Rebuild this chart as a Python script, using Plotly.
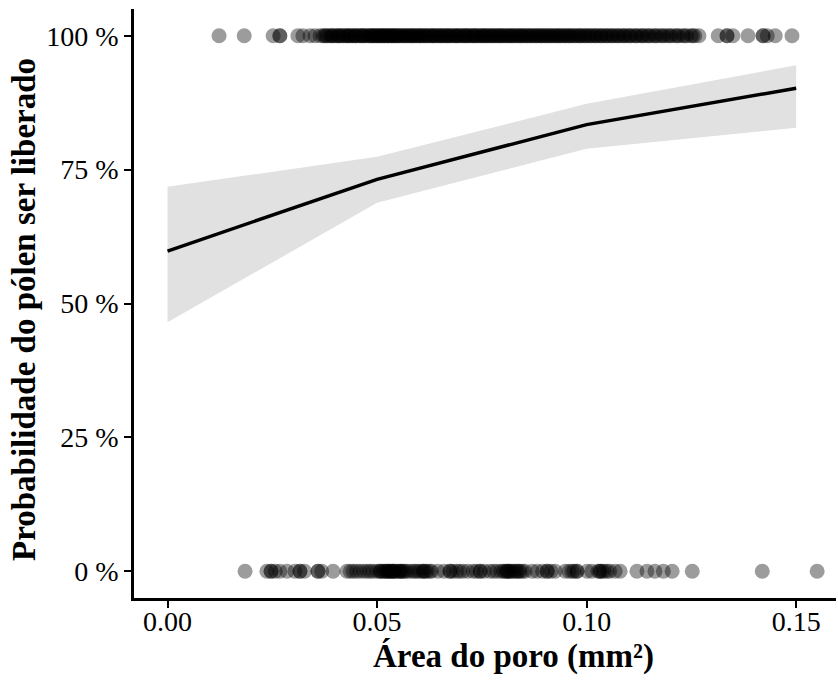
import plotly.graph_objects as go

# --- data ---
released_x = [
    0.0123, 0.0183, 0.0252, 0.0268, 0.0268, 0.0311, 0.0323, 0.0340, 0.0352,
    0.0364, 0.0371, 0.0375, 0.0382, 0.0388, 0.0391, 0.0398, 0.0404, 0.0409, 0.0413,
    0.0420, 0.0426, 0.0431, 0.0435, 0.0442, 0.0447, 0.0451, 0.0458, 0.0463, 0.0467,
    0.0472, 0.0479, 0.0484, 0.0488, 0.0493, 0.0497, 0.0502, 0.0506, 0.0511, 0.0515,
    0.0519, 0.0524, 0.0528, 0.0533, 0.0537, 0.0541, 0.0546, 0.0550, 0.0555, 0.0561,
    0.0566, 0.0570, 0.0576, 0.0581, 0.0585, 0.0590, 0.0596, 0.0601, 0.0605, 0.0611,
    0.0616, 0.0620, 0.0627, 0.0632, 0.0636, 0.0641, 0.0648, 0.0652, 0.0657, 0.0663,
    0.0668, 0.0672, 0.0678, 0.0684, 0.0689, 0.0693, 0.0699, 0.0705, 0.0710, 0.0714,
    0.0720, 0.0726, 0.0731, 0.0735, 0.0741, 0.0747, 0.0752, 0.0757, 0.0762, 0.0768,
    0.0773, 0.0778, 0.0784, 0.0789, 0.0794, 0.0799, 0.0805, 0.0811, 0.0816, 0.0821,
    0.0826, 0.0832, 0.0838, 0.0843, 0.0848, 0.0854, 0.0860, 0.0865, 0.0871, 0.0877,
    0.0882, 0.0888, 0.0893, 0.0899, 0.0905, 0.0911, 0.0916, 0.0922, 0.0928, 0.0933,
    0.0939, 0.0945, 0.0951, 0.0957, 0.0962, 0.0968, 0.0975, 0.0981, 0.0986, 0.0993,
    0.0999, 0.1005, 0.1012, 0.1018, 0.1024, 0.1031, 0.1037, 0.1044, 0.1051, 0.1057,
    0.1064, 0.1071, 0.1078, 0.1085, 0.1092, 0.1099, 0.1106, 0.1114, 0.1121, 0.1129,
    0.1136, 0.1144, 0.1152, 0.1160, 0.1168, 0.1176, 0.1185, 0.1193, 0.1202, 0.1211,
    0.1220, 0.1229, 0.1239, 0.1249, 0.1258, 0.1268,
    0.0378, 0.0394, 0.0407, 0.0418, 0.0429, 0.0439, 0.0449, 0.0460, 0.0470, 0.0481,
    0.0490, 0.0500, 0.0509, 0.0517, 0.0526, 0.0535, 0.0544, 0.0553, 0.0563, 0.0573,
    0.0583, 0.0593, 0.0603, 0.0613, 0.0624, 0.0634, 0.0645, 0.0655, 0.0666, 0.0676,
    0.0687, 0.0697, 0.0708, 0.0718, 0.0729, 0.0739, 0.0750, 0.0760, 0.0771, 0.0781,
    0.0792, 0.0802, 0.0813, 0.0824, 0.0835, 0.0846, 0.0857, 0.0868, 0.0880, 0.0891,
    0.0902, 0.0913, 0.0925, 0.0936, 0.0948, 0.0960, 0.0972, 0.0984, 0.0996, 0.1008,
    0.1021, 0.1034, 0.1047, 0.1061, 0.1075, 0.1089, 0.1103, 0.1118, 0.1133, 0.1148,
    0.1164, 0.1181, 0.1198, 0.1216, 0.1234, 0.1253,
    0.1314, 0.1335, 0.1335, 0.1349, 0.1385, 0.1421, 0.1421, 0.1431, 0.1450, 0.1490,
]
released_y = [100] * len(released_x)

retained_x = [
    0.0185, 0.0237, 0.0247, 0.0247, 0.0257, 0.0268, 0.0285, 0.0304, 0.0316, 0.0316,
    0.0327, 0.0359, 0.0359, 0.0368, 0.0395, 0.0428, 0.0443, 0.0459, 0.0476, 0.0490,
    0.0507, 0.0507, 0.0516, 0.0524, 0.0524, 0.0531, 0.0538, 0.0538, 0.0545, 0.0555,
    0.0555, 0.0562, 0.0571, 0.0586, 0.0597, 0.0610, 0.0610, 0.0619, 0.0626, 0.0645,
    0.0674, 0.0674, 0.0690, 0.0705, 0.0729, 0.0746, 0.0746, 0.0769, 0.0786, 0.0801,
    0.0810, 0.0810, 0.0817, 0.0825, 0.0834, 0.0841, 0.0853, 0.0882, 0.0906, 0.0906,
    0.0925, 0.0949, 0.0965, 0.0977, 0.0977, 0.1001, 0.1027, 0.1032, 0.1032, 0.1042,
    0.1049, 0.1068, 0.1080, 0.1120, 0.1144, 0.1163, 0.1183, 0.1204, 0.1252, 0.1419,
    0.1550,
    0.0436, 0.0451, 0.0468, 0.0483, 0.0499, 0.0512, 0.0520, 0.0528, 0.0534, 0.0541,
    0.0549, 0.0558, 0.0566, 0.0578, 0.0591, 0.0603, 0.0615, 0.0630, 0.0660, 0.0681,
    0.0697, 0.0716, 0.0737, 0.0756, 0.0778, 0.0795, 0.0805, 0.0814, 0.0821, 0.0830,
    0.0838, 0.0847, 0.0870, 0.0895, 0.0915, 0.0958, 0.0970, 0.1012, 0.1037, 0.1055,
]
retained_y = [0] * len(retained_x)

fit_x = [0.00, 0.05, 0.10, 0.15]
fit_y = [59.8, 73.2, 83.4, 90.2]
fit_lo = [46.5, 68.8, 78.9, 82.8]
fit_hi = [71.8, 77.4, 87.3, 94.5]

y_ticks = [0, 25, 50, 75, 100]
y_labels = ["0 %", "25 %", "50 %", "75 %", "100 %"]
x_ticks = [0.00, 0.05, 0.10, 0.15]
x_labels = ["0.00", "0.05", "0.10", "0.15"]

FONT = "Liberation Serif"

fig = go.Figure()

fig.add_trace(go.Scatter(x=fit_x, y=fit_lo, mode="lines", line=dict(width=0),
                         showlegend=False, hoverinfo="skip"))
fig.add_trace(go.Scatter(x=fit_x, y=fit_hi, mode="lines", line=dict(width=0),
                         fill="tonexty", fillcolor="#e1e1e1",
                         showlegend=False, hoverinfo="skip"))

point_style = dict(size=15, color="rgba(0,0,0,0.39)", line=dict(width=0))
fig.add_trace(go.Scatter(x=released_x, y=released_y, mode="markers",
                         marker=point_style, showlegend=False))
fig.add_trace(go.Scatter(x=retained_x, y=retained_y, mode="markers",
                         marker=point_style, showlegend=False))

fig.add_trace(go.Scatter(x=fit_x, y=fit_y, mode="lines",
                         line=dict(color="black", width=3.4), showlegend=False))

axis_common = dict(
    showgrid=False, zeroline=False, showline=True, linecolor="black", linewidth=2.5,
    ticks="outside", ticklen=7, tickwidth=2, tickcolor="black", automargin=False,
    tickfont=dict(family=FONT, size=28, color="black"),
)

fig.update_xaxes(range=[-0.0080, 0.1595], tickvals=x_ticks, ticktext=x_labels,
                 ticklabelstandoff=-10, **axis_common)
fig.update_yaxes(range=[-5, 105], tickvals=y_ticks, ticktext=y_labels,
                 **axis_common)

fig.add_annotation(text="<b>Área do poro (mm²)</b>", xref="paper", yref="paper",
                   x=(513 - 134) / 702, y=(598 - 656) / 589,
                   xanchor="center", yanchor="middle", showarrow=False,
                   font=dict(family=FONT, size=33, color="black"))
fig.add_annotation(text="<b>Probabilidade do pólen ser liberado</b>", xref="paper", yref="paper",
                   x=(24 - 134) / 702, y=(598 - 310) / 589, textangle=-90,
                   xanchor="center", yanchor="middle", showarrow=False,
                   font=dict(family=FONT, size=33, color="black"))

fig.update_layout(
    width=838, height=684,
    margin=dict(l=134, r=2, t=9, b=86),
    plot_bgcolor="white", paper_bgcolor="white",
    font=dict(family=FONT, color="black"),
)

fig.write_html("out.html", config={"displayModeBar": False},
               post_script="document.body.style.margin='0px';document.body.style.overflow='hidden';")
